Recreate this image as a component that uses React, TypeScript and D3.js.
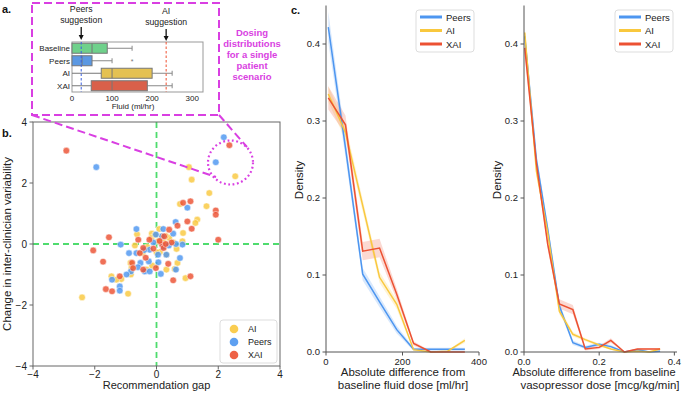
import React from "react";
import * as d3 from "d3";

// ---------- Panel a: box plot data ----------
const boxGroups = ["Baseline", "Peers", "AI", "XAI"];
const boxWhiskLo = [0, 0, 0, 0];
const boxQ1 = [0, 0, 73, 48];
const boxMedian = [50, 25, 100, 100];
const boxQ3 = [88, 50, 200, 188];
const boxWhiskHi = [150, 100, 250, 250];
const boxOutliers: number[][] = [[], [150], [], []];
const boxColors = ["#6fd18b", "#5b98e2", "#e4c152", "#d9604a"];
const fluidTicks = [0, 100, 200, 300];
const peersSuggestion = 23;
const aiSuggestion = 235;

// ---------- Panel b: scatter data ----------
const aiPoints: [number, number][] = [
  [2.55, 2.22], [1.05, 2.52], [1.14, 2.11], [1.71, 1.67], [1.62, 1.24], [0.76, 1.31],
  [1.32, 0.8], [1.26, 0.69], [0.86, 0.36], [0.84, 0.09], [0.65, -0.16], [0.68, -0.62],
  [0.59, -0.82], [0.94, -1.12], [0.32, -0.84], [0.41, 0.2], [0.09, 0.49], [0.16, 0.25],
  [0.05, 0.09], [-0.15, 0.34], [-0.63, 0.32], [-0.7, -0.05], [0.11, -0.26], [-0.14, -0.71],
  [-0.32, -0.84], [-0.84, -0.62], [-0.81, -0.79], [-0.83, -1.0], [-0.92, -1.63], [-1.14, -1.15],
  [-1.3, -1.17], [-1.46, -1.06], [-2.41, -1.75], [0.3, 0.26], [-0.16, 0.2], [0.32, -0.35],
  [0.0, -0.27], [-0.3, -0.1], [0.22, 0.05], [-0.45, -0.3], [0.55, 0.05], [-0.05, 0.3],
];
const peersPoints: [number, number][] = [
  [-1.95, 2.52], [2.18, 3.5], [1.92, 2.68], [1.0, 1.19], [0.62, 0.72], [0.54, 0.34],
  [0.22, 0.49], [0.18, 0.25], [-0.02, 0.31], [0.84, -0.02], [0.76, -0.46], [0.63, -0.84],
  [0.14, -0.98], [0.06, -0.6], [0.32, -0.35], [-0.25, -0.57], [-0.38, -0.9], [-0.52, -0.62],
  [-0.83, -0.9], [-0.65, -0.3], [-0.89, -0.3], [-0.97, -1.0], [-0.65, 0.49], [-1.16, -0.02],
  [-1.44, -1.17], [-1.19, -1.39], [-1.19, -1.53], [0.21, -0.08], [-0.22, -0.19], [-0.6, -0.76],
  [-0.22, -0.9], [0.4, -0.05], [0.05, -0.35], [-0.4, -0.2], [0.63, 0.0], [-0.1, 0.05],
];
const xaiPoints: [number, number][] = [
  [-2.92, 3.06], [2.36, 3.24], [1.92, 1.1], [1.92, 0.96], [1.1, 1.4], [0.86, 1.35],
  [1.0, 0.74], [1.14, 0.5], [0.68, 0.6], [2.0, 0.14], [0.41, 0.47], [0.25, 0.25],
  [0.49, 0.05], [0.18, -0.02], [-0.23, 0.14], [-0.59, 0.14], [-1.54, 0.22], [-2.05, -0.21],
  [-1.73, -0.58], [-1.64, -1.48], [-1.44, -1.55], [-1.19, -1.06], [-0.43, -0.13], [-0.54, -0.3],
  [0.23, -0.13], [0.38, -0.65], [-0.02, -0.79], [-0.43, -0.84], [-0.79, -0.62], [-0.76, -0.79],
  [0.54, -1.19], [1.1, -1.06], [0.1, 0.1], [-0.1, -0.15], [0.3, 0.0], [-0.35, -0.45],
];
const scatterTicks = [-4, -2, 0, 2, 4];

// ---------- Panel c: density lines ----------
const fluidX = [6, 51, 96, 140, 185, 229, 274, 318, 363];
const fluidPeers = [0.422, 0.265, 0.101, 0.065, 0.029, 0.0035, 0.0035, 0.0035, 0.0035];
const fluidPeersCI = [0.02, 0.012, 0.008, 0.007, 0.005, 0.002, 0.002, 0.002, 0.002];
const fluidAI = [0.335, 0.285, 0.19, 0.097, 0.062, 0.003, 0.0, 0.001, 0.015];
const fluidAICI = [0.01, 0.01, 0.008, 0.007, 0.006, 0.002, 0.001, 0.001, 0.003];
const fluidXAI = [0.33, 0.295, 0.131, 0.135, 0.075, 0.011, 0.0, 0.0, 0.0];
const fluidXAICI = [0.015, 0.012, 0.012, 0.012, 0.007, 0.003, 0.001, 0.001, 0.001];
const fluidTicksC = [0, 200, 400];

const vasoX = [0.002, 0.033, 0.063, 0.094, 0.13, 0.163, 0.2, 0.231, 0.267, 0.302, 0.333, 0.362];
const vasoPeers = [0.41, 0.25, 0.16, 0.06, 0.012, 0.006, 0.01, 0.007, 0.0, 0.003, 0.0, 0.001];
const vasoPeersCI = [0.008, 0.008, 0.006, 0.005, 0.003, 0.002, 0.002, 0.002, 0.001, 0.001, 0.001, 0.001];
const vasoAI = [0.415, 0.235, 0.155, 0.053, 0.023, 0.016, 0.009, 0.004, 0.0, 0.001, 0.0, 0.004];
const vasoAICI = [0.006, 0.006, 0.005, 0.004, 0.003, 0.002, 0.002, 0.001, 0.001, 0.001, 0.001, 0.001];
const vasoXAI = [0.395, 0.245, 0.14, 0.0625, 0.055, 0.004, 0.006, 0.015, 0.0, 0.004, 0.004, 0.004];
const vasoXAICI = [0.008, 0.006, 0.006, 0.006, 0.006, 0.002, 0.002, 0.003, 0.001, 0.001, 0.001, 0.001];
const vasoTicks = [0, 0.2, 0.4];
const densityTicks = [0, 0.1, 0.2, 0.3, 0.4];

const BLUE = "#4d96f0";
const YELLOW = "#f9c83e";
const RED = "#ec5132";
const MAGENTA = "#d93fe2";
const GREEN = "#4fdc6e";
const FONT = "Liberation Sans, Arial, Helvetica, sans-serif";
const TXT = "#222";

function DensityPanel(props: {
  xs: number[];
  series: { v: number[]; ci: number[]; color: string; name: string }[];
  xDomain: [number, number];
  xRange: [number, number];
  xTicks: number[];
  xFmt: (v: number) => string;
  label1: string;
  label2: string;
  label1X: number;
  label1Size: number;
  labelX: number;
  legendX: number;
  densityX: number;
}) {
  const x = d3.scaleLinear().domain(props.xDomain).range(props.xRange);
  const y = d3.scaleLinear().domain([0, 0.45]).range([352, 5.5]);
  const line = d3
    .line<number>()
    .x((_, i) => x(props.xs[i]))
    .y((d) => y(d));
  const areaFor = (v: number[], ci: number[]) =>
    d3
      .area<number>()
      .x((_, i) => x(props.xs[i]))
      .y0((d, i) => y(Math.max(0, d - ci[i])))
      .y1((d, i) => y(d + ci[i]))(v) || "";
  const x0 = props.xRange[0];
  return (
    <g fontFamily={FONT}>
      {props.series.map((s) => (
        <path key={"a" + s.name} d={areaFor(s.v, s.ci)} fill={s.color} opacity={0.22} />
      ))}
      {props.series.map((s) => (
        <path key={"l" + s.name} d={line(s.v) || ""} fill="none" stroke={s.color} strokeWidth={1.5} />
      ))}
      <line x1={x0} x2={x0} y1={y(0.45)} y2={y(0)} stroke="#555" strokeWidth={1} />
      <line x1={x0} x2={props.xRange[1]} y1={y(0)} y2={y(0)} stroke="#555" strokeWidth={1} />
      {densityTicks.map((t) => (
        <g key={"yt" + t}>
          <line x1={x0 - 3.5} x2={x0} y1={y(t)} y2={y(t)} stroke="#555" />
          <text x={x0 - 6} y={y(t) + 3.3} fontSize={9.5} textAnchor="end" fill={TXT}>
            {t.toFixed(1)}
          </text>
        </g>
      ))}
      {props.xTicks.map((t) => (
        <g key={"xt" + t}>
          <line x1={x(t)} x2={x(t)} y1={y(0)} y2={y(0) + 3.5} stroke="#555" />
          <text x={x(t)} y={y(0) + 13} fontSize={9.5} textAnchor="middle" fill={TXT}>
            {props.xFmt(t)}
          </text>
        </g>
      ))}
      <text
        transform={`translate(${props.densityX},180) rotate(-90)`}
        fontSize={11.5}
        textAnchor="middle"
        fill={TXT}
      >
        Density
      </text>
      <text x={props.label1X} y={376} fontSize={props.label1Size} textAnchor="middle" fill={TXT}>
        {props.label1}
      </text>
      <text x={props.labelX} y={389} fontSize={11.5} textAnchor="middle" fill={TXT}>
        {props.label2}
      </text>
      <rect x={props.legendX} y={10} width={58} height={42} rx={3} fill="white" stroke="#ddd" />
      {props.series.map((s, i) => (
        <g key={"lg" + s.name}>
          <line
            x1={props.legendX + 4}
            x2={props.legendX + 26}
            y1={17 + i * 13.5}
            y2={17 + i * 13.5}
            stroke={s.color}
            strokeWidth={3}
          />
          <text x={props.legendX + 30} y={20.5 + i * 13.5} fontSize={9.5} fill={TXT}>
            {s.name}
          </text>
        </g>
      ))}
    </g>
  );
}

export default function App() {
  // Panel a scales
  const bx = d3.scaleLinear().domain([0, 327]).range([72, 203]);
  const by = d3.scaleBand().domain(boxGroups).range([42, 92]).paddingInner(0.2).paddingOuter(0.1);
  const bw = by.bandwidth();

  // Panel b scales
  const sx = d3.scaleLinear().domain([-4, 4]).range([33, 280]);
  const sy = d3.scaleLinear().domain([-4, 4]).range([366, 122]);

  const groups = [
    { name: "AI", pts: aiPoints, color: YELLOW },
    { name: "Peers", pts: peersPoints, color: BLUE },
    { name: "XAI", pts: xaiPoints, color: RED },
  ];

  return (
    <svg
      width={685}
      height={395}
      viewBox="0 0 685 395"
      style={{ position: "absolute", left: 0, top: 0, background: "white" }}
      fontFamily={FONT}
    >
      <rect x={0} y={0} width={685} height={395} fill="white" />
      {/* ---------- Panel a ---------- */}
      <text x={2} y={13} fontSize={11} fontWeight="bold" fill="#111">a.</text>
      <rect x={32} y={3} width={187} height={112} fill="none" stroke={MAGENTA} strokeWidth={2} strokeDasharray="8,4" />
      <rect x={72} y={42} width={131} height={50} fill="none" stroke="#999" strokeWidth={1} />
      {boxGroups.map((g, i) => {
        const yc = (by(g) || 0) + bw / 2;
        const top = by(g) || 0;
        return (
          <g key={g}>
            <line x1={bx(boxWhiskLo[i])} x2={bx(boxQ1[i])} y1={yc} y2={yc} stroke="#777" strokeWidth={1} />
            <line x1={bx(boxQ3[i])} x2={bx(boxWhiskHi[i])} y1={yc} y2={yc} stroke="#888" strokeWidth={1} />
            <line x1={bx(boxWhiskHi[i])} x2={bx(boxWhiskHi[i])} y1={yc - bw / 4} y2={yc + bw / 4} stroke="#888" />
            <rect x={bx(boxQ1[i])} y={top} width={bx(boxQ3[i]) - bx(boxQ1[i])} height={bw} fill={boxColors[i]} stroke="#777" strokeWidth={1} />
            <line x1={bx(boxMedian[i])} x2={bx(boxMedian[i])} y1={top} y2={top + bw} stroke="#777" strokeWidth={1} />
            {boxOutliers[i].map((o) => (
              <text key={o} x={bx(o)} y={yc + 3} fontSize={7} textAnchor="middle" fill="#777">*</text>
            ))}
            <text x={70} y={yc + 3} fontSize={8} textAnchor="end" fill={TXT}>{g}</text>
          </g>
        );
      })}
      <line x1={bx(peersSuggestion)} x2={bx(peersSuggestion)} y1={42} y2={92} stroke="#3a5fe0" strokeWidth={1} strokeDasharray="2.5,2" />
      <line x1={bx(aiSuggestion)} x2={bx(aiSuggestion)} y1={42} y2={92} stroke="#f05030" strokeWidth={1} strokeDasharray="2.5,2" />
      {fluidTicks.map((t) => (
        <text key={t} x={bx(t)} y={101} fontSize={8} textAnchor="middle" fill={TXT}>{t}</text>
      ))}
      <text x={133} y={108.5} fontSize={8} textAnchor="middle" fill={TXT}>Fluid (ml/hr)</text>
      {/* annotations */}
      <text x={bx(peersSuggestion)} y={12} fontSize={8.7} textAnchor="middle" fill={TXT}>Peers</text>
      <text x={bx(peersSuggestion)} y={23} fontSize={8.7} textAnchor="middle" fill={TXT}>suggestion</text>
      <line x1={bx(peersSuggestion)} x2={bx(peersSuggestion)} y1={27} y2={36} stroke="#111" strokeWidth={1.3} />
      <path d={`M${bx(peersSuggestion) - 2.5},35 L${bx(peersSuggestion) + 2.5},35 L${bx(peersSuggestion)},40 Z`} fill="#111" />
      <text x={bx(aiSuggestion)} y={14} fontSize={8.7} textAnchor="middle" fill={TXT}>AI</text>
      <text x={bx(aiSuggestion)} y={25} fontSize={8.7} textAnchor="middle" fill={TXT}>suggestion</text>
      <line x1={bx(aiSuggestion)} x2={bx(aiSuggestion)} y1={29} y2={37} stroke="#111" strokeWidth={1.3} />
      <path d={`M${bx(aiSuggestion) - 2.5},36 L${bx(aiSuggestion) + 2.5},36 L${bx(aiSuggestion)},41 Z`} fill="#111" />
      {["Dosing", "distributions", "for a single", "patient", "scenario"].map((s, i) => (
        <text key={s} x={252} y={36 + i * 11} fontSize={9.5} fontWeight="bold" textAnchor="middle" fill={MAGENTA}>
          {s}
        </text>
      ))}

      {/* ---------- Panel b ---------- */}
      <text x={2} y={137} fontSize={11} fontWeight="bold" fill="#111">b.</text>
      <line x1={sx(0)} x2={sx(0)} y1={sy(4)} y2={sy(-4)} stroke={GREEN} strokeWidth={1.8} strokeDasharray="6,4" />
      <line x1={sx(-4)} x2={sx(4)} y1={sy(0)} y2={sy(0)} stroke={GREEN} strokeWidth={1.8} strokeDasharray="6,4" />
      {groups.map((g) =>
        g.pts.map((p, i) => (
          <circle
            key={g.name + i}
            cx={sx(p[0])}
            cy={sy(p[1])}
            r={3.3}
            fill={g.color}
            fillOpacity={0.82}
            stroke="white"
            strokeWidth={0.5}
          />
        ))
      )}
      <rect x={33} y={122} width={247} height={244} fill="none" stroke="#666" strokeWidth={1} />
      {scatterTicks.map((t) => (
        <g key={"s" + t}>
          <line x1={sx(t)} x2={sx(t)} y1={366} y2={369.5} stroke="#666" />
          <text x={sx(t)} y={378} fontSize={10} textAnchor="middle" fill={TXT}>{t < 0 ? "\u2212" + Math.abs(t) : t}</text>
          <line x1={29.5} x2={33} y1={sy(t)} y2={sy(t)} stroke="#666" />
          <text x={27} y={sy(t) + 3.5} fontSize={10} textAnchor="end" fill={TXT}>{t < 0 ? "\u2212" + Math.abs(t) : t}</text>
        </g>
      ))}
      <text x={156.5} y={389} fontSize={11} textAnchor="middle" fill={TXT}>Recommendation gap</text>
      <text transform="translate(11,244) rotate(-90)" fontSize={11.5} textAnchor="middle" fill={TXT}>
        Change in inter-clinician variability
      </text>
      <rect x={220} y={320} width={57} height={43} rx={3} fill="white" stroke="#ddd" />
      {groups.map((g, i) => (
        <g key={"lgb" + g.name}>
          <circle cx={234} cy={329 + i * 13} r={4.3} fill={g.color} fillOpacity={0.9} />
          <text x={248} y={332.3 + i * 13} fontSize={9} fill={TXT}>{g.name}</text>
        </g>
      ))}
      {/* connectors */}
      <line x1={32} y1={115} x2={216} y2={177} stroke={MAGENTA} strokeWidth={2} strokeDasharray="8,4" />
      <line x1={219} y1={115} x2={247} y2={147} stroke={MAGENTA} strokeWidth={2} strokeDasharray="8,4" />
      <ellipse cx={230.5} cy={162.5} rx={22.5} ry={22} fill="none" stroke={MAGENTA} strokeWidth={2.2} strokeDasharray="1.8,2.6" />

      {/* ---------- Panel c ---------- */}
      <text x={291} y={14} fontSize={11} fontWeight="bold" fill="#111">c.</text>
      <DensityPanel
        xs={fluidX}
        series={[
          { v: fluidPeers, ci: fluidPeersCI, color: BLUE, name: "Peers" },
          { v: fluidAI, ci: fluidAICI, color: YELLOW, name: "AI" },
          { v: fluidXAI, ci: fluidXAICI, color: RED, name: "XAI" },
        ]}
        xDomain={[0, 400]}
        xRange={[326, 479]}
        xTicks={fluidTicksC}
        xFmt={(v) => String(v)}
        label1="Absolute difference from"
        label1X={403}
        label1Size={11.5}
        label2="baseline fluid dose [ml/hr]"
        labelX={403}
        legendX={416}
        densityX={303}
      />
      <DensityPanel
        xs={vasoX}
        series={[
          { v: vasoPeers, ci: vasoPeersCI, color: BLUE, name: "Peers" },
          { v: vasoAI, ci: vasoAICI, color: YELLOW, name: "AI" },
          { v: vasoXAI, ci: vasoXAICI, color: RED, name: "XAI" },
        ]}
        xDomain={[0, 0.407]}
        xRange={[524, 677]}
        xTicks={vasoTicks}
        xFmt={(v) => v.toFixed(1)}
        label1="Absolute difference from baseline"
        label1X={594}
        label1Size={11}
        label2="vasopressor dose [mcg/kg/min]"
        labelX={600}
        legendX={615}
        densityX={501}
      />
    </svg>
  );
}
